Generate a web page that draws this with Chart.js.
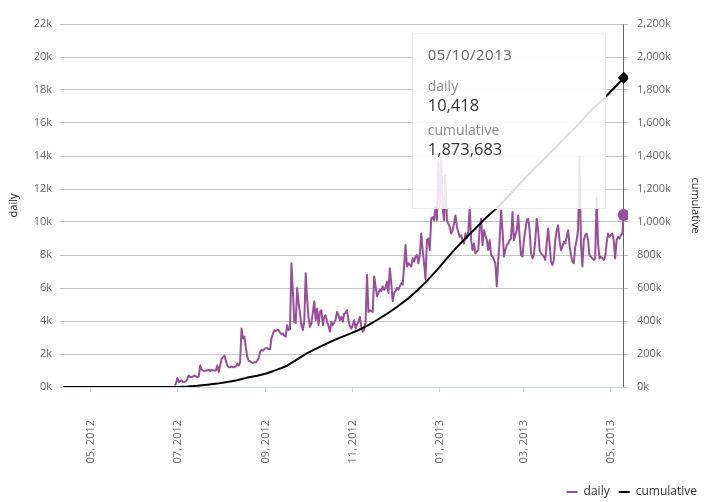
<!DOCTYPE html>
<html>
<head>
<meta charset="utf-8">
<script src="https://cdn.jsdelivr.net/npm/chart.js@4.4.1/dist/chart.umd.min.js"></script>
<style>
html,body{margin:0;padding:0;background:#fff;}
#wrap{position:relative;width:710px;height:502px;overflow:hidden;}
#tt{position:absolute;display:none;box-sizing:border-box;background:rgba(255,255,255,0.86);border:1px solid #ebebeb;font-family:'Open Sans',sans-serif;padding:10px 15px;pointer-events:none;}
#tt .t{font-size:15px;line-height:20px;letter-spacing:0.5px;color:#666;}
#tt .l{font-size:14px;line-height:18px;color:#888;}
#tt .v{font-size:16.5px;line-height:20px;color:#333;}
</style>
</head>
<body>
<div id="wrap"><canvas id="c"></canvas><div id="tt"></div></div>
<script>
// ---- data ----
const dailyStart = '2012-06-29';
const daily = [
  // Jun 29-30
  100, 200,
  // Jul
  550, 300, 350, 400, 300, 300, 350, 500, 700, 600,
  600, 650, 700, 650, 600, 650, 1300, 1050, 1000, 950,
  1000, 1000, 1050, 950, 1050, 1000, 1000, 1000, 1300, 900,
  1300,
  // Aug
  1700, 1800, 1900, 1600, 1300, 1200, 1200, 1250, 1200,
  1200, 1250, 1400, 1300, 1500, 3550, 2950, 3050, 2400, 1850,
  1600, 1550, 1500, 1450, 1500, 1500, 1600, 1750, 2100, 2250,
  2200, 2300,
  // Sep
  2350, 2350, 2300, 2300, 2950, 3200, 3450, 3400,
  3450, 3450, 3300, 3200, 3250, 3100, 3050, 3750, 3450, 3500,
  7500, 5800, 3950, 3900, 6000, 5100, 4450, 3750, 3450, 4000,
  6900, 5300,
  // Oct
  4200, 3650, 3850, 4500, 5200, 4050, 4750, 3750,
  4550, 4650, 3750, 4250, 4350, 3950, 3700, 3350, 3950, 3750,
  3900, 4100, 4550, 4350, 4050, 4250, 3950, 4450, 4500, 4650,
  4050, 3700, 3550,
  // Nov
  3750, 4050, 3550, 3800, 3950, 4250, 3650,
  3350, 3500, 3950, 6800, 4550, 4650, 4600, 4550, 6700, 6100,
  5500, 5700, 5900, 5800, 6100, 5900, 6000, 6400, 5700, 7200,
  6300, 5200, 5700,
  // Dec
  5800, 6000, 5900, 6100, 6300, 6200, 7300,
  8600, 7300, 7500, 7400, 7300, 7800, 7600, 7900, 8000, 7500,
  8000, 9300, 8300, 7500, 6500, 8900, 9000, 8300, 10200, 10300,
  10100, 10900, 10100, 13600,
  // Jan
  10900, 14200, 10900, 10100, 12800, 10100,
  9900, 9700, 9300, 9500, 9900, 10400, 9700, 9400, 9100, 9200,
  8900, 8700, 9300, 9000, 9400, 10900, 8900, 8300, 8700, 8100,
  8200, 8300, 9600, 10200, 8600,
  // Feb
  9500, 9200, 8900, 8300, 8900,
  8000, 7900, 7700, 7500, 6100, 7700, 8900, 10700, 9500, 7900,
  8300, 8600, 8700, 8900, 9000, 10600, 8900, 9200, 9500, 10400,
  9100, 8000, 7900,
  // Mar
  8900, 9500, 10100, 10200, 9500, 8100, 7800,
  8000, 8900, 10200, 9500, 8300, 8100, 8000, 7900, 7700, 8700,
  9600, 8700, 7600, 7400, 7700, 8900, 9500, 9800, 8900, 8300,
  8500, 8800, 8700, 9100,
  // Apr
  9500, 8600, 8000, 7600, 7500, 8500,
  8900, 9500, 14000, 8700, 7300, 8900, 9200, 9300, 8900, 8000,
  7900, 7800, 7700, 7800, 11500, 8700, 7800, 7900, 7800, 7700,
  7900, 8700, 9300, 9100,
  // May
  9200, 9300, 8900, 7800, 8900, 9100, 9000, 9200, 9300, 10418
];

const cumDates = [
  '2012-04-12', '2012-06-28',
  '2012-07-01', '2012-07-08', '2012-07-15', '2012-07-22', '2012-07-29',
  '2012-08-05', '2012-08-12', '2012-08-19', '2012-08-26',
  '2012-09-02', '2012-09-09', '2012-09-16', '2012-09-23', '2012-09-30',
  '2012-10-07', '2012-10-14', '2012-10-21', '2012-10-28',
  '2012-11-04', '2012-11-11', '2012-11-18', '2012-11-25',
  '2012-12-02', '2012-12-09', '2012-12-16', '2012-12-23', '2012-12-30',
  '2013-01-06', '2013-01-13', '2013-01-20', '2013-01-27',
  '2013-02-03', '2013-02-10', '2013-02-17', '2013-02-24',
  '2013-03-03', '2013-03-10', '2013-03-17', '2013-03-24', '2013-03-31',
  '2013-04-07', '2013-04-14', '2013-04-21', '2013-04-28',
  '2013-05-05', '2013-05-10'
];
const cumulative = [
  0, 0,
  500, 3000, 7200, 13500, 20500,
  30500, 41000, 57000, 68500,
  83500, 105000, 129000, 167000, 205000,
  236000, 264000, 292000, 316000,
  341000, 370000, 406000, 444000,
  485000, 531000, 583000, 643000, 708000,
  780000, 848000, 910000, 970000,
  1031000, 1085000, 1147000, 1212000,
  1276000, 1339000, 1398000, 1458000, 1521000,
  1581000, 1648000, 1708000, 1765000,
  1827000, 1873683
];

const xTickDates = ['2012-05-01', '2012-07-01', '2012-09-01', '2012-11-01', '2013-01-01', '2013-03-01', '2013-05-01'];
const xTickLabels = ['05, 2012', '07, 2012', '09, 2012', '11, 2012', '01, 2013', '03, 2013', '05, 2013'];
const dailyTickValues = [0, 2000, 4000, 6000, 8000, 10000, 12000, 14000, 16000, 18000, 20000, 22000];
const dailyTickLabels = ['0k', '2k', '4k', '6k', '8k', '10k', '12k', '14k', '16k', '18k', '20k', '22k'];
const cumTickValues = [0, 200000, 400000, 600000, 800000, 1000000, 1200000, 1400000, 1600000, 1800000, 2000000, 2200000];
const cumTickLabels = ['0k', '200k', '400k', '600k', '800k', '1,000k', '1,200k', '1,400k', '1,600k', '1,800k', '2,000k', '2,200k'];

// ---- helpers ----
const BASE = Date.UTC(2012, 6, 1);
function dayOf(s) {
  const p = s.split('-').map(Number);
  return Math.round((Date.UTC(p[0], p[1] - 1, p[2]) - BASE) / 864e5);
}
function fmtDate(day) {
  const d = new Date(BASE + day * 864e5);
  const mm = String(d.getUTCMonth() + 1).padStart(2, '0');
  const dd = String(d.getUTCDate()).padStart(2, '0');
  return mm + '/' + dd + '/' + d.getUTCFullYear();
}

const d0 = dayOf(dailyStart);
const dailyPoints = daily.map((v, i) => ({ x: d0 + i, y: v }));
const cumPoints = cumDates.map((d, i) => ({ x: dayOf(d), y: cumulative[i] }));
const firstDay = dayOf(cumDates[0]);
const lastDay = dayOf(cumDates[cumDates.length - 1]);

const PURPLE = '#984e9a';
const FONT = "'Open Sans', sans-serif";
Chart.defaults.font.family = FONT;

const crosshair = {
  id: 'crosshair',
  beforeDatasetsDraw(chart) {
    const act = chart.getActiveElements();
    if (!act.length) return;
    const x = Math.round(act[0].element.x) - 0.5;
    const { top, bottom } = chart.chartArea;
    const ctx = chart.ctx;
    ctx.save();
    ctx.strokeStyle = '#666';
    ctx.lineWidth = 1;
    ctx.beginPath();
    ctx.moveTo(x, top);
    ctx.lineTo(x, bottom);
    ctx.stroke();
    ctx.restore();
  }
};

function externalTooltip(context) {
  const { chart, tooltip } = context;
  const el = document.getElementById('tt');
  const pts = tooltip.dataPoints || [];
  if (!pts.length) { el.style.display = 'none'; return; }
  let html = '<div class="t">' + fmtDate(pts[0].parsed.x) + '</div>';
  pts.forEach((p, i) => {
    html += '<div class="l" style="margin-top:' + (i === 0 ? 13 : 6) + 'px">' + p.dataset.label + '</div>';
    html += '<div class="v">' + Math.round(p.parsed.y).toLocaleString('en-US') + '</div>';
  });
  el.innerHTML = html;
  const w = 194, h = 176;
  el.style.width = w + 'px';
  el.style.height = h + 'px';
  el.style.left = (tooltip.caretX - 18 - w) + 'px';
  el.style.top = (chart.chartArea.top + 9) + 'px';
  el.style.display = 'block';
}

const chart = new Chart(document.getElementById('c'), {
  type: 'line',
  data: {
    datasets: [
      {
        label: 'daily',
        data: dailyPoints,
        yAxisID: 'y',
        order: 1,
        borderColor: PURPLE,
        backgroundColor: PURPLE,
        borderWidth: 2,
        borderJoinStyle: 'round',
        pointRadius: 0,
        pointHoverRadius: 6,
        pointHoverBorderWidth: 0,
        pointHoverBackgroundColor: PURPLE,
        tension: 0
      },
      {
        label: 'cumulative',
        data: cumPoints,
        yAxisID: 'y1',
        order: 0,
        borderColor: '#000',
        backgroundColor: '#000',
        borderWidth: 2,
        borderJoinStyle: 'round',
        pointStyle: 'rectRot',
        pointRadius: 0,
        pointHoverRadius: 6,
        pointHoverBorderWidth: 0,
        pointHoverBackgroundColor: '#000',
        tension: 0
      }
    ]
  },
  plugins: [crosshair],
  options: {
    responsive: true,
    maintainAspectRatio: false,
    animation: false,
    events: [],
    layout: { padding: { top: 24, right: 4, bottom: -6, left: 0 } },
    interaction: { mode: 'index', intersect: false },
    plugins: {
      legend: {
        position: 'bottom',
        align: 'end',
        labels: {
          usePointStyle: true,
          pointStyle: 'line',
          pointStyleWidth: 11,
          padding: 9,
          color: '#333',
          font: { size: 12, family: FONT },
          sort: (a, b) => a.datasetIndex - b.datasetIndex
        }
      },
      tooltip: { enabled: false, external: externalTooltip }
    },
    scales: {
      x: {
        type: 'linear',
        min: firstDay - 2.3,
        max: lastDay + 3,
        afterBuildTicks: s => { s.ticks = xTickDates.map(d => ({ value: dayOf(d) })); },
        afterFit: s => { s.height = 90; },
        ticks: {
          autoSkip: false,
          minRotation: 90,
          maxRotation: 90,
          padding: 28,
          color: '#666',
          font: { size: 11, family: FONT },
          callback: (v, i) => xTickLabels[i]
        },
        grid: { drawOnChartArea: false, drawTicks: true, tickLength: 5, color: '#ccd6eb' },
        border: { display: true, color: '#ccd6eb', z: -1 }
      },
      y: {
        position: 'left',
        min: 0,
        max: 22000,
        afterBuildTicks: s => { s.ticks = dailyTickValues.map(v => ({ value: v })); },
        afterFit: s => { s.width = 60; },
        ticks: {
          padding: 8,
          color: '#666',
          font: { size: 11, family: FONT },
          callback: (v, i) => dailyTickLabels[i]
        },
        grid: {
          drawTicks: false,
          color: c => (c.tick && c.tick.value === 0) ? 'rgba(0,0,0,0)' : '#c4c4c4'
        },
        border: { display: false },
        title: { display: true, text: 'daily', color: '#222', font: { size: 11, family: FONT }, padding: { top: 7, bottom: 0 } }
      },
      y1: {
        position: 'right',
        min: 0,
        max: 2200000,
        afterBuildTicks: s => { s.ticks = cumTickValues.map(v => ({ value: v })); },
        afterFit: s => { s.width = 78; },
        ticks: {
          padding: 9,
          color: '#666',
          font: { size: 11, family: FONT },
          callback: (v, i) => cumTickLabels[i]
        },
        grid: { drawOnChartArea: false, drawTicks: false },
        border: { display: false },
        title: { display: true, text: 'cumulative', color: '#222', font: { size: 11, family: FONT }, padding: { top: 4, bottom: 0 } }
      }
    }
  }
});

const active = [
  { datasetIndex: 0, index: daily.length - 1 },
  { datasetIndex: 1, index: cumulative.length - 1 }
];
chart.setActiveElements(active);
const el0 = chart.getDatasetMeta(0).data[daily.length - 1];
chart.tooltip.setActiveElements(active, { x: el0.x, y: el0.y });
chart.update();
</script>
</body>
</html>
